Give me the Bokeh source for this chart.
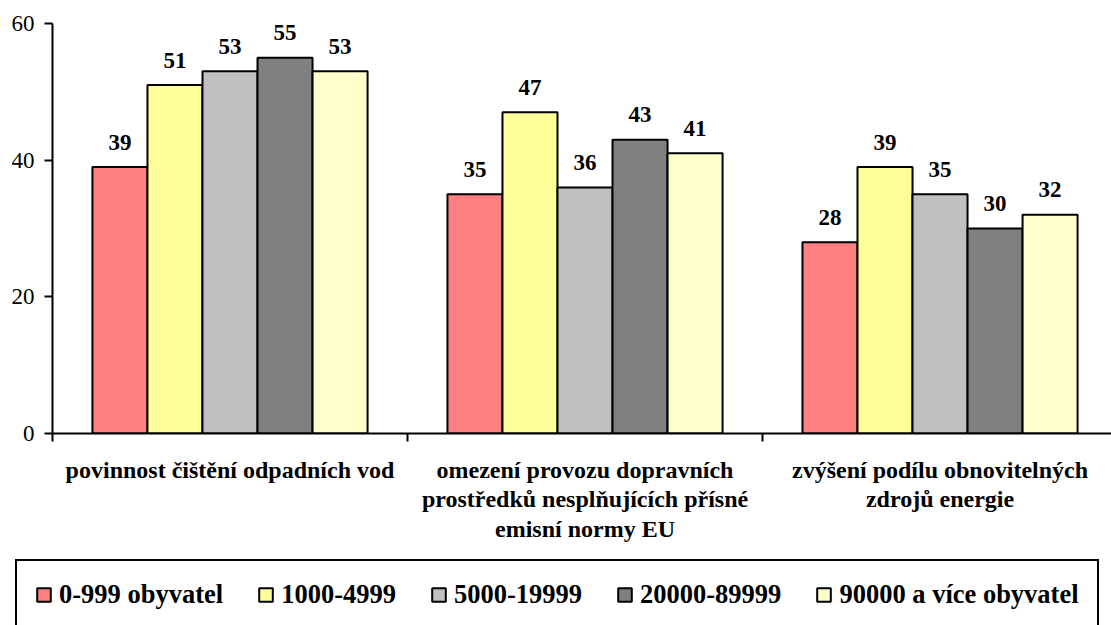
import numpy as np
from bokeh.plotting import figure
from bokeh.layouts import column
from bokeh.models import Range1d, FixedTicker, Legend, LegendItem, ColumnDataSource, CustomJSTickFormatter
from bokeh.core.properties import value
from bokeh.embed import file_html
from bokeh.resources import INLINE

categories = ["povinnost čištění odpadních vod",
              "omezení provozu dopravních\nprostředků nesplňujících přísné\nemisní normy EU",
              "zvýšení podílu obnovitelných\nzdrojů energie"]
series_names = ["0-999 obyvatel", "1000-4999", "5000-19999", "20000-89999", "90000 a více obyvatel"]
s_0_999 = [39, 35, 28]
s_1000_4999 = [51, 47, 39]
s_5000_19999 = [53, 36, 35]
s_20000_89999 = [55, 43, 30]
s_90000_plus = [53, 41, 32]
series = [s_0_999, s_1000_4999, s_5000_19999, s_20000_89999, s_90000_plus]
colors = ["#FF8080", "#FFFF99", "#C0C0C0", "#808080", "#FFFFCC"]
y_ticks = [0, 20, 40, 60]

FONT = "Liberation Serif"
bar_w = 0.155

p = figure(width=1111, height=555, output_backend="svg", toolbar_location=None,
           x_range=Range1d(0, 2.983), y_range=Range1d(0, 60),
           min_border_left=52, min_border_right=0, min_border_top=23, min_border_bottom=122)
p.outline_line_color = None
p.xgrid.visible = False
p.ygrid.visible = False

# legend strip below the chart
pl = figure(width=1111, height=70, output_backend="svg", toolbar_location=None,
            x_range=Range1d(0, 1), y_range=Range1d(0, 1),
            x_axis_location=None, y_axis_location=None,
            min_border_left=15, min_border_right=0, min_border_top=4, min_border_bottom=0)
pl.outline_line_color = None
pl.xgrid.visible = False
pl.ygrid.visible = False

for fig in (p, pl):
    try:
        fig.frame_align = False
    except Exception:
        pass

items = []
for j, (vals, name, col) in enumerate(zip(series, series_names, colors)):
    xs = np.arange(len(categories)) + 0.5 + (j - 2) * bar_w
    src = ColumnDataSource(dict(x=xs, top=vals, label=[str(v) for v in vals]))
    p.vbar(x="x", top="top", bottom=0, width=bar_w, source=src, fill_color=col,
           line_color="black", line_width=2)
    p.text(x="x", y="top", text="label", source=src, text_align="center",
           text_baseline="alphabetic", y_offset=-25, text_font=value(FONT),
           text_font_style="bold", text_font_size="23px", text_color="black")
    r = pl.vbar(x="x", top="top", bottom=0, width=bar_w, source=src, fill_color=col,
                line_color="black", line_width=2, visible=False)
    items.append(LegendItem(label=name, renderers=[r]))

# x axis
xa = p.xaxis[0]
xa.ticker = FixedTicker(ticks=[0.5, 1.5, 2.5], minor_ticks=[0, 1, 2, 3])
xa.formatter = CustomJSTickFormatter(args=dict(labels=categories),
                                     code="return labels[Math.floor(tick)];")
xa.major_tick_out = 0
xa.major_tick_in = 0
xa.minor_tick_out = 8
xa.minor_tick_in = 0
xa.minor_tick_line_width = 2
xa.minor_tick_line_color = "black"
xa.axis_line_width = 2
xa.axis_line_color = "black"
xa.major_label_standoff = 15
xa.major_label_text_font = FONT
xa.major_label_text_font_style = "bold"
xa.major_label_text_font_size = "24px"
xa.major_label_text_color = "black"
xa.major_label_text_line_height = 1.15

# y axis
ya = p.yaxis[0]
ya.ticker = FixedTicker(ticks=y_ticks, minor_ticks=[])
ya.major_tick_out = 8
ya.major_tick_in = 0
ya.major_tick_line_width = 2
ya.major_tick_line_color = "black"
ya.axis_line_width = 2
ya.axis_line_color = "black"
ya.major_label_standoff = 10
ya.major_label_text_font = FONT
ya.major_label_text_font_size = "23px"
ya.major_label_text_color = "black"

legend = Legend(items=items, orientation="horizontal", location="top_left",
                border_line_color="black", border_line_width=2, border_line_alpha=1,
                padding=18, spacing=34, glyph_width=17, glyph_height=17, label_standoff=7,
                label_text_font=FONT, label_text_font_style="bold", label_text_font_size="26.5px",
                label_text_color="black", background_fill_color="white", background_fill_alpha=1,
                margin=0)
pl.add_layout(legend, "center")

open("out.html", "w").write(file_html(column(p, pl, spacing=0), INLINE))
